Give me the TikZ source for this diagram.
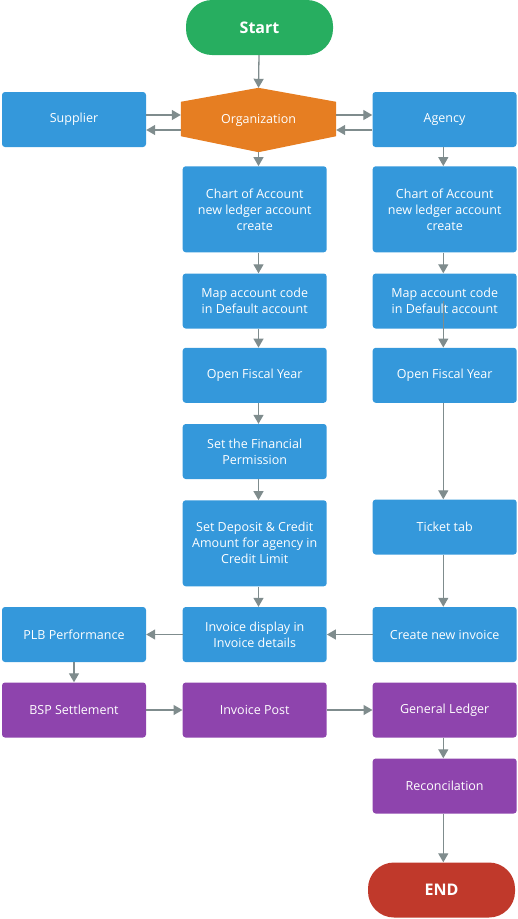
\documentclass[tikz,border=0pt]{standalone}
\usepackage{fontspec}
\setmainfont{Open Sans}
\usetikzlibrary{arrows.meta}
\definecolor{cgreen}{HTML}{27AE60}
\definecolor{cblue}{HTML}{3498DB}
\definecolor{corange}{HTML}{E67E22}
\definecolor{cpurple}{HTML}{8E44AD}
\definecolor{cred}{HTML}{C0392B}
\definecolor{cgray}{HTML}{7F8C8D}
\pgfdeclarelayer{bg}
\pgfsetlayers{bg,main}
\begin{document}
\begin{tikzpicture}[x=1pt,y=-1pt,
  box/.style={rectangle, rounded corners=3pt, fill=cblue, text=white, minimum width=144pt, minimum height=55pt, align=center, inner sep=2pt, font=\fontsize{12.5}{16}\selectfont},
  tallbox/.style={box, minimum height=86pt},
  pbox/.style={box, fill=cpurple},
  term/.style={rectangle, rounded corners=26pt, text=white, minimum width=147pt, minimum height=55pt, font=\fontsize{16}{18}\selectfont\bfseries},
  arr/.style={draw=cgray, line width=1.3pt, -{Triangle[width=10pt,length=9pt]}},
  thinline/.style={draw=cgray, line width=0.6pt}
]
\useasboundingbox (0,0) rectangle (518,919);

% terminals
\node[term, fill=cgreen] (start) at (259.5,27.5) {Start};
\node[term, fill=cred] (end) at (441.5,890) {END};

% organization hexagon
\node[minimum width=155pt, minimum height=64pt, text=white, font=\fontsize{12.5}{16}\selectfont, inner sep=0pt] (org) at (258.5,120) {Organization};
\begin{pgfonlayer}{bg}
\fill[corange] (org.north) -- ([yshift=-14pt]org.north east) -- ([yshift=16pt]org.south east) -- (org.south) -- ([yshift=16pt]org.south west) -- ([yshift=-14pt]org.north west) -- cycle;
\end{pgfonlayer}

\node[box] (sup) at (74,119.5) {Supplier};
\node[box] (agn) at (444.5,119.5) {Agency};

% middle column
\node[tallbox] (m1) at (254.7,209.3) {Chart of Account\\new ledger account\\create};
\node[box] (m2) at (254.7,301) {Map account code\\in Default account};
\node[box] (m3) at (254.7,375.3) {Open Fiscal Year};
\node[box] (m4) at (254.7,451.5) {Set the Financial\\Permission};
\node[tallbox] (m5) at (254.7,543.3) {Set Deposit \& Credit\\Amount for agency in\\Credit Limit};
\node[box] (m6) at (254.7,634.5) {Invoice display in\\Invoice details};
\node[pbox] (m7) at (254.7,710) {Invoice Post};

% right column
\node[tallbox] (r1) at (444.7,209.3) {Chart of Account\\new ledger account\\create};
\node[box] (r2) at (444.7,301) {Map account code\\in Default account};
\node[box] (r3) at (444.7,375.3) {Open Fiscal Year};
\node[box] (r4) at (444.7,527) {Ticket tab};
\node[box] (r5) at (444.7,634.5) {Create new invoice};
\node[pbox] (r6) at (444.7,710) {General Ledger};
\node[pbox] (r7) at (444.7,786) {Reconcilation};

% left column
\node[box] (l1) at (74,634.5) {PLB Performance};
\node[pbox] (l2) at (74,710) {BSP Settlement};

% connectors
\draw[arr] (start.south -| 259,0) -- (org.north);
\draw[arr] ([yshift=4.5pt]sup.east) -- ([yshift=4.5pt]sup.east -| org.west);
\draw[arr] ([yshift=-10.5pt]sup.east -| org.west) -- ([yshift=-10.5pt]sup.east);
\draw[arr] ([yshift=4.5pt]agn.west -| org.east) -- ([yshift=4.5pt]agn.west);
\draw[arr] ([yshift=-10.5pt]agn.west) -- ([yshift=-10.5pt]agn.west -| org.east);

\draw[arr] (org.south) -- (org.south |- m1.north);
\draw[arr] (m1.south -| org.south) -- (m2.north -| org.south);
\draw[arr] (m2.south -| org.south) -- (m3.north -| org.south);
\draw[arr] (m3.south -| org.south) -- (m4.north -| org.south);
\draw[arr] (m4.south -| org.south) -- (m5.north -| org.south);
\draw[arr] (m5.south -| org.south) -- (m6.north -| org.south);

\coordinate (rx) at (443.3,0);
\draw[arr] (agn.south -| rx) -- (r1.north -| rx);
\draw[arr] (r1.south -| rx) -- (r2.north -| rx);
\draw[thinline] (r2.center -| rx) -- (r2.south -| rx);
\draw[arr] (r2.south -| rx) -- (r3.north -| rx);
\draw[arr] (r3.south -| rx) -- (r4.north -| rx);
\draw[arr] (r4.south -| rx) -- (r5.north -| rx);
\draw[arr] (r6.south -| rx) -- (r7.north -| rx);
\draw[arr] (r7.south -| rx) -- (end.north -| rx);

\draw[arr] (r5.west) -- (m6.east);
\draw[arr] (m6.west) -- (l1.east);
\draw[arr] (l1.south) -- (l2.north);
\draw[arr] (l2.east) -- (m7.west);
\draw[arr] (m7.east) -- (r6.west);
\end{tikzpicture}
\end{document}
